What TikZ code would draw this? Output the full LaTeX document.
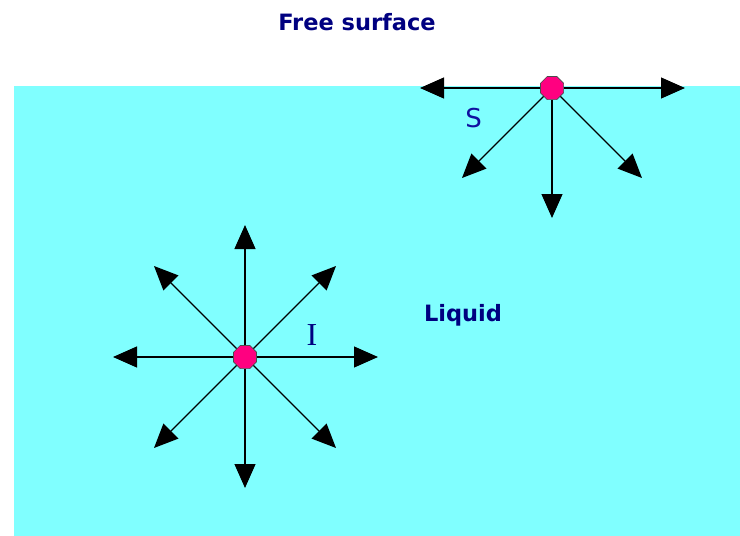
\documentclass[tikz,border=0pt]{standalone}
\usepackage{fontspec}
\setmainfont{DejaVu Sans}
\newfontfamily\serifI{Liberation Serif}
\usetikzlibrary{arrows.meta,shapes.geometric}
\definecolor{liquid}{RGB}{128,255,255}
\definecolor{navy}{RGB}{0,0,128}
\definecolor{sblue}{RGB}{16,16,160}
\definecolor{dot}{RGB}{255,0,128}
\begin{document}
\begin{tikzpicture}[x=1pt,y=-1pt,
  force/.style={-{Triangle[length=24pt,width=21pt]}, line width=1.2pt, draw=black},
  molecule/.style={regular polygon, regular polygon sides=8, minimum size=25pt, inner sep=0pt, fill=dot, draw=black!70, line width=0.6pt},
  lbl/.style={text=navy, font=\bfseries\fontsize{22.5}{22.5}\selectfont, inner sep=0pt}]
\useasboundingbox (0,0) rectangle (740,536);
\fill[liquid] (14,86) rectangle (740,536);
% labels
\node[lbl, anchor=base] (free) at (357,30) {Free surface};
\node[lbl, anchor=base] (liq) at (463,321) {Liquid};
\node[text=sblue, font=\fontsize{26}{26}\selectfont, inner sep=0pt, anchor=base] (slab) at (473.5,127) {S};
\node[text=navy, font=\serifI\fontsize{32}{32}\selectfont, inner sep=0pt, anchor=base] (ilab) at (312,345) {I};
% surface molecule
\node[molecule] (s) at (552,88) {};
\coordinate (sL) at (420,88);
\coordinate (sR) at (685,88);
\coordinate (sD) at (552,218);
\coordinate (sDL) at (462,178);
\coordinate (sDR) at (642,178);
\foreach \t in {sL,sR,sD,sDL,sDR} \draw[force] (s) -- (\t);
% interior molecule
\node[molecule] (m) at (245,357) {};
\coordinate (mU) at (245,225);
\coordinate (mD) at (245,488);
\coordinate (mL) at (113,357);
\coordinate (mR) at (378,357);
\coordinate (mUL) at (154,266);
\coordinate (mUR) at (336,266);
\coordinate (mDL) at (154,448);
\coordinate (mDR) at (336,448);
\foreach \t in {mU,mD,mL,mR,mUL,mUR,mDL,mDR} \draw[force] (m) -- (\t);
\end{tikzpicture}
\end{document}
